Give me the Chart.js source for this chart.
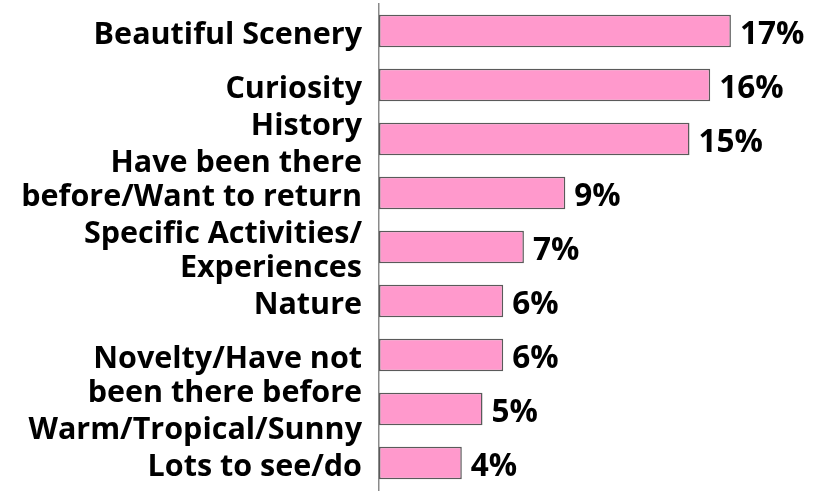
<!DOCTYPE html>
<html>
<head>
<meta charset="utf-8">
<script src="https://cdn.jsdelivr.net/npm/chart.js@4"></script>
<style>
  html, body { margin: 0; padding: 0; background: #fff; }
  #wrap { width: 822px; height: 491px; position: relative; }
</style>
</head>
<body>
<div id="wrap"><canvas id="reasonsChart"></canvas></div>
<script>
// empty strings only nudge a label up or down, like the original layout
const categories = [
  "Beautiful Scenery",
  "Curiosity",
  ["History", ""],
  ["Have been there", "before/Want to return", ""],
  ["Specific Activities/", "Experiences"],
  "Nature",
  ["", "Novelty/Have not", "been there before"],
  ["", "Warm/Tropical/Sunny"],
  "Lots to see/do"
];
const shares = [17, 16, 15, 9, 7, 6, 6, 5, 4];

// value labels at the end of each bar
const valueLabels = {
  id: "valueLabels",
  afterDatasetsDraw(chart) {
    const ctx = chart.ctx;
    const meta = chart.getDatasetMeta(0);
    ctx.save();
    ctx.font = "bold 31.5px 'Open Sans'";
    ctx.fillStyle = "#000";
    ctx.textAlign = "left";
    ctx.textBaseline = "middle";
    meta.data.forEach((bar, i) => {
      ctx.fillText(shares[i] + "%", bar.x + 9, bar.y + 4);
    });
    ctx.restore();
  }
};

const ctx = document.getElementById("reasonsChart").getContext("2d");
new Chart(ctx, {
  type: "bar",
  data: {
    labels: categories,
    datasets: [{
      data: shares,
      backgroundColor: "#FF99CC",
      borderColor: "#5a5a5a",
      borderWidth: 1.5,
      borderSkipped: false,
      categoryPercentage: 1,
      barPercentage: 0.6
    }]
  },
  options: {
    indexAxis: "y",
    responsive: true,
    maintainAspectRatio: false,
    animation: false,
    layout: { padding: { top: 4, right: 29, bottom: 1, left: 0 } },
    plugins: {
      legend: { display: false },
      tooltip: { enabled: false }
    },
    scales: {
      x: { display: false, min: 0, max: 20 },
      y: {
        afterFit(scale) {
          scale.width = 379;
          scale.paddingTop = 0;
          scale.paddingBottom = 0;
        },
        grid: { display: false, drawTicks: false },
        border: { display: true, color: "#8a8a8a", width: 1.5 },
        ticks: {
          autoSkip: false,
          padding: 17,
          labelOffset: 4,
          color: "#000",
          font: { family: "'Open Sans'", weight: "bold", size: 30.5, lineHeight: 1.12 }
        }
      }
    }
  },
  plugins: [valueLabels]
});
</script>
</body>
</html>
